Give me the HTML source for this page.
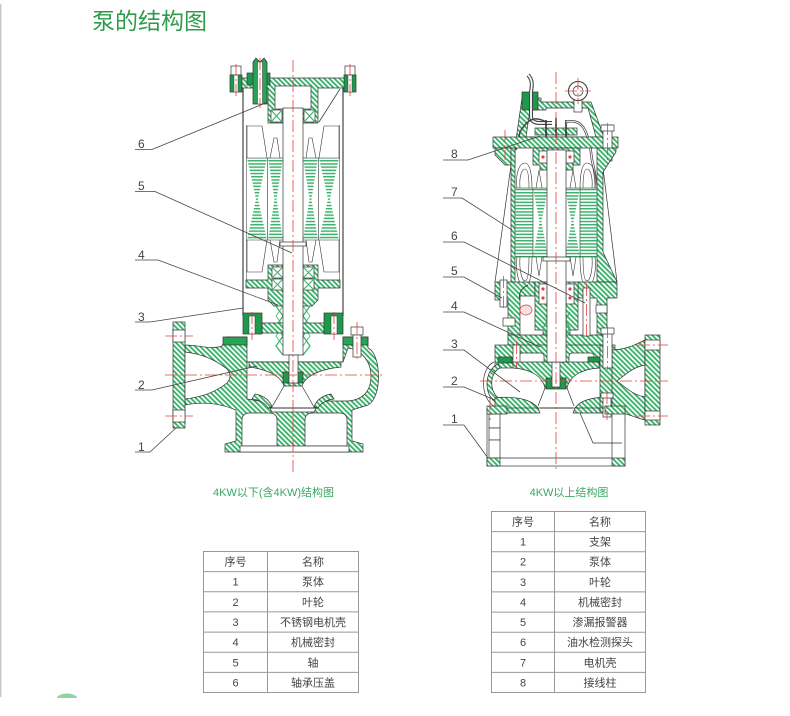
<!DOCTYPE html>
<html><head><meta charset="utf-8">
<style>
html,body{margin:0;padding:0;background:#fff;}
svg{display:block;}
text{font-family:"Liberation Sans","Noto Sans CJK SC",sans-serif;}
</style></head><body>
<svg width="790" height="716" viewBox="0 0 790 716" xmlns="http://www.w3.org/2000/svg">
<defs>
<pattern id="h" width="3.6" height="3.6" patternUnits="userSpaceOnUse" patternTransform="rotate(-45)"><rect width="3.6" height="3.6" fill="#fff"/><rect width="1.9" height="3.6" fill="#3db46d"/></pattern>
<pattern id="w" width="8" height="3.2" patternUnits="userSpaceOnUse"><rect width="8" height="1.5" fill="#3db46d"/></pattern>
</defs>

<rect x="0" y="4" width="1.5" height="693" fill="#c9c9c9"/>
<path d="M57,698 A10,4.5 0 0 1 77,698 Z" fill="#8ed4a4"/>

<text x="92" y="29" font-size="23" fill="#2f9b4c">泵的结构图</text>

<!-- ================= LEFT PUMP ================= -->
<g stroke="#333" stroke-width="0.7">
  <!-- casing -->
  <line x1="243" y1="86" x2="243" y2="316" stroke-width="1.1"/>
  <line x1="343" y1="86" x2="343" y2="316" stroke-width="1.1"/>
  <line x1="246.5" y1="125" x2="246.5" y2="282" stroke-width="0.5"/>
  <line x1="339.5" y1="125" x2="339.5" y2="282" stroke-width="0.5"/>

  <!-- top cap -->
  <path d="M238,78 H348 V88 H318 V123 H268 V88 H238 Z" fill="url(#h)"/>
  <rect x="275" y="86" width="36" height="23" fill="#fff"/>
  <rect x="271" y="110" width="11" height="12" fill="#fff"/>
  <rect x="304" y="110" width="11" height="12" fill="#fff"/>
  <path d="M271,110 L282,122 M282,110 L271,122 M304,110 L315,122 M315,110 L304,122" stroke="#3db46d" stroke-width="1.2"/>
  <line x1="319" y1="122" x2="340" y2="89"/>

  <!-- bolts top -->
  <rect x="231" y="66" width="10" height="9" fill="#fff"/>
  <rect x="230" y="75" width="12" height="17" fill="#1f9a4c"/>
  <rect x="234" y="75" width="4" height="17" fill="#fff" stroke-width="0.4"/>
  <rect x="345" y="66" width="10" height="9" fill="#fff"/>
  <rect x="344" y="75" width="12" height="17" fill="#1f9a4c"/>
  <rect x="348" y="75" width="4" height="17" fill="#fff" stroke-width="0.4"/>

  <!-- cable pipe -->
  <rect x="247" y="73" width="23" height="12" fill="#1f9a4c"/>
  <path d="M253,62 L256,58 L260,62 L264,58 L267,62 L267,104 L253,104 Z" fill="#27a455"/>
  <rect x="257.5" y="62" width="5" height="42" fill="#fff" stroke-width="0.5"/>

  <!-- windings -->
  <g stroke="none">
    <polygon points="247,158 267,158 258,199 267,240 247,240 256,199" fill="url(#w)"/>
    <polygon points="268,158 283,158 276.5,199 283,240 268,240 274.5,199" fill="url(#w)"/>
    <polygon points="303,158 318,158 311.5,199 318,240 303,240 309.5,199" fill="url(#w)"/>
    <polygon points="319,158 339,158 330,199 339,240 319,240 328,199" fill="url(#w)"/>
  </g>
  <g fill="none" stroke-width="0.6">
    <line x1="246" y1="158" x2="340" y2="158"/>
    <line x1="246" y1="240" x2="340" y2="240"/>
    <line x1="267.5" y1="158" x2="267.5" y2="240"/>
    <line x1="318.5" y1="158" x2="318.5" y2="240"/>
    <path d="M247,158 L247,126 L262,126 L267,158"/>
    <path d="M339,158 L339,126 L324,126 L319,158"/>
    <path d="M270,158 L274,138 L277,138 L280,158"/>
    <path d="M316,158 L312,138 L309,138 L306,158"/>
    <path d="M247,240 L247,272 L262,272 L267,240"/>
    <path d="M339,240 L339,272 L324,272 L319,240"/>
    <path d="M270,240 L274,262 L277,262 L280,240"/>
    <path d="M316,240 L312,262 L309,262 L306,240"/>
  </g>

  <!-- lower bearing housing -->
  <path d="M246,280 H268 V265 H318 V280 H340 V288 H318 V300 L312,306 H274 L268,300 V288 H246 Z" fill="url(#h)"/>
  <rect x="272" y="267" width="11" height="11" fill="#fff"/>
  <rect x="272" y="279" width="11" height="11" fill="#fff"/>
  <rect x="303" y="267" width="11" height="11" fill="#fff"/>
  <rect x="303" y="279" width="11" height="11" fill="#fff"/>
  <path d="M272,267 L283,278 M283,267 L272,278 M272,279 L283,290 M283,279 L272,290 M303,267 L314,278 M314,267 L303,278 M303,279 L314,290 M314,279 L303,290" stroke="#3db46d" stroke-width="1.1"/>

  <!-- seals -->
  <path d="M276,306 L283,316 L276,326 L283,336 L276,346 L283,355 M310,306 L303,316 L310,326 L303,336 L310,346 L303,355" fill="none" stroke="#3db46d" stroke-width="1.3"/>
  <path d="M283,306 L276,316 L283,326 L276,336 L283,346 M303,306 L310,316 L303,326 L310,336 L303,346" fill="none" stroke="#3db46d" stroke-width="0.8"/>

  <!-- motor base flange -->
  <path d="M262,323 H324 V333 H262 Z" fill="url(#h)"/>
  <rect x="243" y="313" width="19" height="21" fill="#1f9a4c"/>
  <rect x="249" y="316" width="6" height="18" fill="#fff" stroke-width="0.5"/>
  <rect x="324" y="313" width="19" height="21" fill="#1f9a4c"/>
  <rect x="331" y="316" width="6" height="18" fill="#fff" stroke-width="0.5"/>

  <!-- pump body -->
  <path d="M185,345 C198,345 212,350 222,346 L226,337 L247,337 L247,362 L343,362 L343,337 L368,337 L368,348 C381,353 383,397 368,405 L352,410 L352,441 L363,444 L363,452 L225,452 L225,444 L236,441 L236,410 C222,404 205,401 185,405 Z" fill="url(#h)"/>
  <rect x="173" y="322" width="12" height="106" fill="url(#h)"/>
  <rect x="173" y="330" width="12" height="12" fill="#fff"/>
  <rect x="173" y="410" width="12" height="12" fill="#fff"/>
  <path d="M185,352 C203,354 217,361 227,369 Q233,376 227,383 C217,391 203,397 185,399 Z" fill="#fff"/>
  <path d="M247,362 L343,362 L348,348 C362,350 371,362 371,376 C371,392 362,400 348,401 L327,401 C319,403 316,408 314,412 L272,412 C270,408 267,403 259,401 L247,399 Z" fill="#fff"/>
  <path d="M242,446 L242,420 Q242,413 250,413 L269,413 Q277,413 277,420 L277,446 Z" fill="#fff"/>
  <path d="M305,446 L305,420 Q305,413 313,413 L339,413 Q347,413 347,420 L347,446 Z" fill="#fff"/>
  <rect x="240" y="446" width="109" height="6" fill="#fff"/>
  <rect x="223" y="337" width="24" height="8" fill="#27a455"/>
  <rect x="343" y="337" width="25" height="8" fill="#27a455"/>

  <!-- impeller -->
  <path d="M249,362 L341,362 L341,367 C320,369 305,376 302,386 L284,386 C281,376 266,369 249,367 Z" fill="url(#h)"/>
  <path d="M255,394 C265,396 270,401 272,407 L268,408 C265,403 260,400 252,399 Z" fill="url(#h)"/>
  <path d="M331,394 C321,396 316,401 314,407 L318,408 C321,403 326,400 334,399 Z" fill="url(#h)"/>
  <line x1="284" y1="386" x2="272" y2="407"/>
  <line x1="302" y1="386" x2="314" y2="407"/>
  <line x1="268" y1="408" x2="318" y2="408" stroke-width="1"/>

  <!-- shaft -->
  <rect x="283" y="108" width="20" height="247" fill="#fff"/>
  <rect x="280" y="242" width="26" height="4" fill="#fff"/>
  <rect x="283" y="372" width="20" height="11" fill="#1f9a4c"/>
  <rect x="289" y="355" width="9" height="28" fill="#fff"/>

  <!-- right bolt -->
  <rect x="351" y="327" width="12" height="8" fill="#fff"/>
  <rect x="353" y="335" width="8" height="22" fill="#fff"/>
</g>

<g stroke="#e2403a" stroke-width="0.8" stroke-dasharray="12,3,2,3" fill="none">
  <line x1="293" y1="60" x2="293" y2="472"/>
  <line x1="165" y1="375" x2="382" y2="375"/>
  <line x1="165" y1="336" x2="193" y2="336"/>
  <line x1="165" y1="416" x2="193" y2="416"/>
  <line x1="236" y1="64" x2="236" y2="98"/>
  <line x1="350" y1="64" x2="350" y2="98"/>
  <line x1="260" y1="58" x2="260" y2="108"/>
  <line x1="252" y1="312" x2="252" y2="340"/>
  <line x1="334" y1="312" x2="334" y2="340"/>
  <line x1="357" y1="322" x2="357" y2="362"/>
</g>

<!-- left labels -->
<g stroke="#444" stroke-width="0.8" fill="none">
  <polyline points="135,149.5 152,149.5 268,102"/>
  <polyline points="135,191.5 155,191.5 292,253"/>
  <polyline points="135,260 158,260 278,305"/>
  <polyline points="135,322 150,322 243,308"/>
  <polyline points="135,390 152,390 257,366"/>
  <polyline points="135,452 150,452 177,427"/>
</g>
<g font-size="12" fill="#444">
  <text x="138" y="148">6</text>
  <text x="138" y="190">5</text>
  <text x="138" y="259">4</text>
  <text x="138" y="321">3</text>
  <text x="138" y="389">2</text>
  <text x="138" y="451">1</text>
</g>

<!-- ================= RIGHT PUMP ================= -->
<g stroke="#333" stroke-width="0.7">
  <!-- fins -->
  <line x1="495" y1="282" x2="511" y2="165"/>
  <line x1="617" y1="282" x2="603" y2="168"/>

  <!-- top cover -->
  <path d="M516,140 L522,98 L541,98 L541,102 L591,102 L605,140 Z" fill="url(#h)"/>
  <path d="M526,137 L530,110 L546,110 L546,108 L588,108 L596,137 Z" fill="#fff"/>
  <rect x="522" y="92" width="16" height="18" fill="#1f9a4c"/>
  <path d="M528,75 C533,80 532,86 531,92 L531,116 C531,121 534,123 540,123 L552,123" fill="none" stroke="#444" stroke-width="4"/>
  <path d="M528,75 C533,80 532,86 531,92 L531,116 C531,121 534,123 540,123 L552,123" fill="none" stroke="#fff" stroke-width="1.8"/>

  <!-- lifting ring -->
  <rect x="574" y="99" width="8" height="13" fill="#fff"/>
  <circle cx="578" cy="91" r="9.5" fill="#fff" stroke-width="1"/>
  <circle cx="578" cy="91" r="5" fill="#fff"/>

  <!-- terminals -->
  <rect x="535" y="128" width="42" height="7" fill="url(#h)"/>
  <g stroke="#333" stroke-width="1.6">
    <line x1="546" y1="120" x2="546" y2="145"/>
    <line x1="556" y1="118" x2="556" y2="145"/>
    <line x1="566" y1="120" x2="566" y2="145"/>
  </g>
  <path d="M566,122 C582,118 586,130 590,145 L592,160 C594,168 596,178 596,188" fill="none" stroke="#444" stroke-width="2.5"/>
  <path d="M566,122 C582,118 586,130 590,145 L592,160 C594,168 596,178 596,188" fill="none" stroke="#fff" stroke-width="1"/>
  <path d="M546,122 C536,116 528,118 520,132 L516,150" fill="none" stroke="#444" stroke-width="1.5"/>

  <!-- main flange -->
  <rect x="493" y="137" width="125" height="11" fill="url(#h)"/>
  <path d="M495,148 H515 V165 H505 L495,155 Z" fill="url(#h)"/>
  <path d="M533,148 H580 V165 H573 V170 H540 V165 H533 Z" fill="url(#h)"/>
  <rect x="539" y="151" width="8" height="12" fill="#fff"/>
  <rect x="566" y="151" width="8" height="12" fill="#fff"/>
  <rect x="603" y="125" width="9" height="36" fill="#fff"/>
  <rect x="601" y="125" width="13" height="6" fill="#fff"/>

  <!-- shell walls -->
  <rect x="511" y="148" width="4" height="135" fill="url(#h)"/>
  <polygon points="597,148 616,148 616,152 603,172 603,252 617,282 597,282" fill="url(#h)"/>

  <!-- windings -->
  <g stroke="none">
    <rect x="515" y="188" width="18" height="69" fill="url(#w)"/>
    <polygon points="533,188 548,188 541.5,222 548,257 533,257 539.5,222" fill="url(#w)"/>
    <polygon points="565,188 580,188 573.5,222 580,257 565,257 571.5,222" fill="url(#w)"/>
    <rect x="580" y="188" width="17" height="69" fill="url(#w)"/>
  </g>
  <g fill="none" stroke-width="0.6">
    <line x1="515" y1="188" x2="597" y2="188"/>
    <line x1="515" y1="257" x2="597" y2="257"/>
    <line x1="533" y1="188" x2="533" y2="257"/>
    <line x1="580" y1="188" x2="580" y2="257"/>
    <path d="M517,188 C515,172 520,163 525,163 C530,163 532,175 532,188"/>
    <path d="M520,188 C519,176 522,169 525,169 C528,169 529,178 529,188"/>
    <path d="M595,188 C597,172 592,163 587,163 C582,163 580,175 580,188"/>
    <path d="M592,188 C593,176 590,169 587,169 C584,169 583,178 583,188"/>
    <path d="M536,188 L539,170 L542,188"/>
    <path d="M576,188 L573,170 L570,188"/>
    <path d="M517,257 C515,275 520,287 525,287 C530,287 532,272 532,257"/>
    <path d="M520,257 C519,270 522,281 525,281 C528,281 529,270 529,257"/>
    <path d="M595,257 C597,275 592,287 587,287 C582,287 580,272 580,257"/>
    <path d="M592,257 C593,270 590,281 587,281 C584,281 583,270 583,257"/>
    <path d="M536,257 L539,276 L542,257"/>
    <path d="M576,257 L573,276 L570,257"/>
  </g>

  <!-- lower motor section -->
  <path d="M495,282 H535 V296 H520 V340 H508 V300 H495 Z" fill="url(#h)"/>
  <path d="M578,282 H617 V298 H607 V343 H597 V298 H578 Z" fill="url(#h)"/>
  <path d="M535,282 H578 V330 H570 V338 H543 V330 H535 Z" fill="url(#h)"/>
  <rect x="539" y="284" width="8" height="20" fill="#fff"/>
  <rect x="566" y="284" width="8" height="20" fill="#fff"/>
  <path d="M508,335 H607 V347 H508 Z" fill="url(#h)"/>
  <rect x="500" y="280" width="7" height="27" fill="#fff"/>
  <ellipse cx="526" cy="310" rx="6" ry="5" fill="#f6e0e0" stroke="#c44"/>
  <path d="M520,300 C518,292 522,288 528,285" fill="none" stroke="#444" stroke-width="1"/>
  <rect x="583" y="288" width="7" height="48" fill="#fff"/>
  <rect x="503" y="318" width="12" height="8" fill="#fff"/>
  <rect x="596" y="305" width="11" height="8" fill="#fff"/>
  <path d="M543,312 L548,320 L543,328 L548,336 M570,312 L565,320 L570,328 L565,336" fill="none" stroke="#3db46d" stroke-width="1.3"/>

  <!-- pump body top plate -->
  <rect x="495" y="345" width="120" height="23" fill="url(#h)"/>
  <rect x="519" y="353" width="25" height="12" rx="3" fill="#fff"/>
  <rect x="569" y="353" width="25" height="12" rx="3" fill="#fff"/>
  <rect x="498" y="357" width="14" height="6" fill="#1f9a4c"/>
  <rect x="588" y="357" width="14" height="6" fill="#1f9a4c"/>
  <rect x="513" y="345" width="7" height="20" fill="#fff"/>

  <!-- volute left -->
  <path d="M498,364 C484,370 483,396 497,403 L500,399 C489,393 489,373 500,368 Z" fill="url(#h)"/>
  <path d="M494,362 C480,368 480,398 494,406" fill="none"/>

  <!-- impeller -->
  <path d="M513,362 H599 V368 C583,369 570,375 567,388 H545 C542,375 529,369 513,368 Z" fill="url(#h)"/>
  <rect x="546" y="378" width="20" height="11" fill="#1f9a4c"/>
  <rect x="552" y="362" width="8" height="25" fill="#fff"/>
  <path d="M495,398 C512,396 530,398 538,408 L540,413 H495 Z" fill="url(#h)"/>
  <path d="M617,398 C600,396 582,398 575,408 L573,413 H617 Z" fill="url(#h)"/>
  <line x1="540" y1="408" x2="573" y2="408" stroke-width="1"/>
  <line x1="545" y1="388" x2="538" y2="406"/>
  <line x1="567" y1="388" x2="574" y2="406"/>

  <!-- right body & outlet -->
  <path d="M610,350 C625,350 635,345 645,340 V420 C635,418 625,412 610,410 Z" fill="url(#h)"/>
  <path d="M617,381 C625,375 633,367 645,365 V397 C633,395 625,387 617,381 Z" fill="#fff"/>
  <rect x="600" y="345" width="12" height="68" fill="url(#h)"/>
  <rect x="645" y="335" width="15" height="90" fill="url(#h)"/>
  <rect x="645" y="340" width="15" height="10" fill="#fff"/>
  <rect x="645" y="411" width="15" height="9" fill="#fff"/>
  <rect x="603" y="330" width="9" height="38" fill="#fff"/>
  <rect x="601" y="328" width="13" height="6" fill="#fff"/>
  <rect x="603" y="395" width="8" height="22" fill="#fff"/>
  <rect x="601" y="393" width="12" height="5" fill="#fff"/>

  <!-- stand -->
  <rect x="487" y="408" width="138" height="58" fill="none"/>
  <rect x="489" y="414" width="11" height="14" fill="#fff"/>
  <rect x="489" y="428" width="11" height="12" fill="#fff"/>
  <rect x="489" y="440" width="11" height="18" fill="#fff"/>
  <line x1="612" y1="413" x2="612" y2="458"/>
  <line x1="500" y1="458" x2="612" y2="458"/>
  <rect x="487" y="458" width="13" height="8" fill="url(#h)"/>
  <rect x="612" y="458" width="13" height="8" fill="url(#h)"/>
  <rect x="487" y="406" width="20" height="8" fill="url(#h)"/>
  <rect x="605" y="406" width="20" height="8" fill="url(#h)"/>
  <polyline points="580,413 593,443 622,443" fill="none"/>

  <!-- shaft -->
  <rect x="547" y="150" width="19" height="212" fill="#fff"/>
  <rect x="543" y="257" width="27" height="4" fill="#fff"/>
</g>

<g stroke="#e2403a" stroke-width="0.8" stroke-dasharray="12,3,2,3" fill="none">
  <line x1="556" y1="72" x2="556" y2="472"/>
  <line x1="480" y1="381" x2="668" y2="381"/>
  <line x1="638" y1="345" x2="668" y2="345"/>
  <line x1="638" y1="416" x2="668" y2="416"/>
  <line x1="578" y1="78" x2="578" y2="104"/>
  <line x1="565" y1="91" x2="591" y2="91"/>
  <line x1="505" y1="130" x2="505" y2="160"/>
  <line x1="607.5" y1="123" x2="607.5" y2="164"/>
  <line x1="586.5" y1="284" x2="586.5" y2="340"/>
  <line x1="503.5" y1="276" x2="503.5" y2="310"/>
  <line x1="607.5" y1="326" x2="607.5" y2="370"/>
  <line x1="607" y1="392" x2="607" y2="420"/>
  <line x1="490" y1="398" x2="490" y2="420"/>
  <line x1="516.5" y1="342" x2="516.5" y2="368"/>
</g>
<g fill="#d44">
  <circle cx="543" cy="157" r="1.6"/><circle cx="570" cy="157" r="1.6"/>
  <circle cx="543" cy="289" r="1.6"/><circle cx="543" cy="298" r="1.6"/>
  <circle cx="570" cy="289" r="1.6"/><circle cx="570" cy="298" r="1.6"/>
</g>

<!-- right labels -->
<g stroke="#444" stroke-width="0.8" fill="none">
  <polyline points="443,160 468,160 540,136"/>
  <polyline points="443,198 462,198 512,230"/>
  <polyline points="443,242 464,242 585,303"/>
  <polyline points="443,277 464,277 502,298"/>
  <polyline points="443,312 464,312 540,347"/>
  <polyline points="443,350 464,350 520,392"/>
  <polyline points="443,387 464,387 495,400"/>
  <polyline points="443,425 464,425 488,458"/>
</g>
<g font-size="12" fill="#444">
  <text x="451" y="158">8</text>
  <text x="451" y="196">7</text>
  <text x="451" y="240">6</text>
  <text x="451" y="275">5</text>
  <text x="451" y="310">4</text>
  <text x="451" y="348">3</text>
  <text x="451" y="385">2</text>
  <text x="451" y="423">1</text>
</g>

<!-- captions -->
<text x="273.5" y="496" font-size="11" fill="#3aa864" text-anchor="middle">4KW以下(含4KW)结构图</text>
<text x="569" y="496" font-size="11" fill="#3aa864" text-anchor="middle">4KW以上结构图</text>

<!-- table 1 -->
<g stroke="#999" stroke-width="1" fill="none">
  <rect x="203.5" y="551.5" width="155" height="141"/>
  <line x1="267.5" y1="551.5" x2="267.5" y2="692.5"/>
  <line x1="203.5" y1="571.6" x2="358.5" y2="571.6"/>
  <line x1="203.5" y1="591.8" x2="358.5" y2="591.8"/>
  <line x1="203.5" y1="611.9" x2="358.5" y2="611.9"/>
  <line x1="203.5" y1="632.1" x2="358.5" y2="632.1"/>
  <line x1="203.5" y1="652.2" x2="358.5" y2="652.2"/>
  <line x1="203.5" y1="672.4" x2="358.5" y2="672.4"/>
</g>
<g font-size="11" fill="#444" text-anchor="middle">
  <text x="235.5" y="565.5">序号</text><text x="313" y="565.5">名称</text>
  <text x="235.5" y="585.7">1</text><text x="313" y="585.7">泵体</text>
  <text x="235.5" y="605.8">2</text><text x="313" y="605.8">叶轮</text>
  <text x="235.5" y="626">3</text><text x="313" y="626">不锈钢电机壳</text>
  <text x="235.5" y="646.1">4</text><text x="313" y="646.1">机械密封</text>
  <text x="235.5" y="666.3">5</text><text x="313" y="666.3">轴</text>
  <text x="235.5" y="686.4">6</text><text x="313" y="686.4">轴承压盖</text>
</g>

<!-- table 2 -->
<g stroke="#999" stroke-width="1" fill="none">
  <rect x="491.5" y="511.5" width="154" height="181"/>
  <line x1="554.5" y1="511.5" x2="554.5" y2="692.5"/>
  <line x1="491.5" y1="531.6" x2="645.5" y2="531.6"/>
  <line x1="491.5" y1="551.7" x2="645.5" y2="551.7"/>
  <line x1="491.5" y1="571.8" x2="645.5" y2="571.8"/>
  <line x1="491.5" y1="591.9" x2="645.5" y2="591.9"/>
  <line x1="491.5" y1="612.1" x2="645.5" y2="612.1"/>
  <line x1="491.5" y1="632.2" x2="645.5" y2="632.2"/>
  <line x1="491.5" y1="652.3" x2="645.5" y2="652.3"/>
  <line x1="491.5" y1="672.4" x2="645.5" y2="672.4"/>
</g>
<g font-size="11" fill="#444" text-anchor="middle">
  <text x="523" y="525.5">序号</text><text x="600" y="525.5">名称</text>
  <text x="523" y="545.6">1</text><text x="600" y="545.6">支架</text>
  <text x="523" y="565.7">2</text><text x="600" y="565.7">泵体</text>
  <text x="523" y="585.8">3</text><text x="600" y="585.8">叶轮</text>
  <text x="523" y="605.9">4</text><text x="600" y="605.9">机械密封</text>
  <text x="523" y="626.1">5</text><text x="600" y="626.1">渗漏报警器</text>
  <text x="523" y="646.2">6</text><text x="600" y="646.2">油水检测探头</text>
  <text x="523" y="666.3">7</text><text x="600" y="666.3">电机壳</text>
  <text x="523" y="686.4">8</text><text x="600" y="686.4">接线柱</text>
</g>
</svg>
</body></html>
